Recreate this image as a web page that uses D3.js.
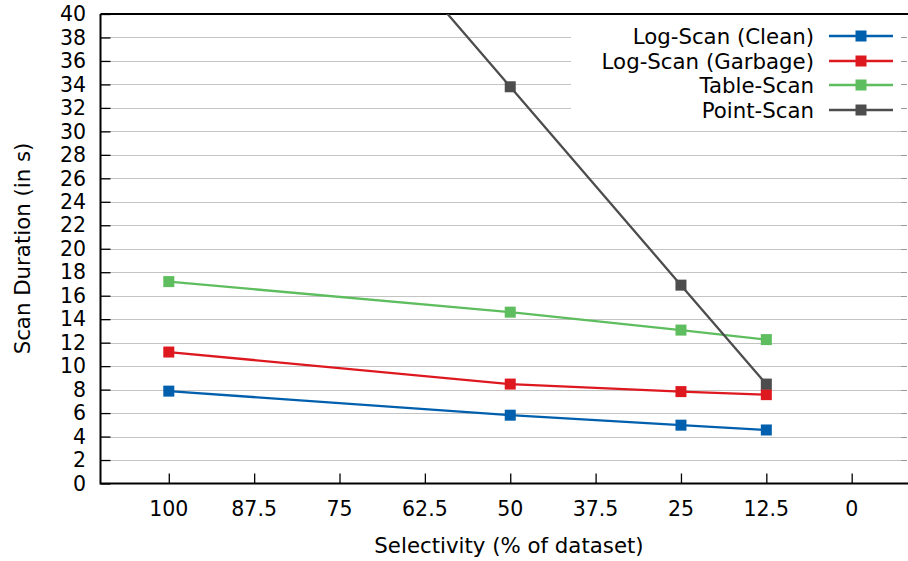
<!DOCTYPE html>
<html>
<head>
<meta charset="utf-8">
<script src="https://cdn.jsdelivr.net/npm/d3@7"></script>
<style>
  body { margin: 0; background: #fff; }
  svg { display: block; font-family: "DejaVu Sans", sans-serif; }
</style>
</head>
<body>
<div id="chart"></div>
<script>
const width = 908;
const height = 561;

// selectivity in % of dataset
const selectivity = [100, 50, 25, 12.5];
const xTicks = [100, 87.5, 75, 62.5, 50, 37.5, 25, 12.5, 0];
const yTicks = d3.range(0, 41, 2);

const logScanClean = [7.87, 5.82, 4.97, 4.56];
const logScanGarbage = [11.2, 8.47, 7.83, 7.57];
const tableScan = [17.2, 14.6, 13.07, 12.26];
const pointScan = [67.6, 33.8, 16.9, 8.47];

const seriesNames = ["Log-Scan (Clean)", "Log-Scan (Garbage)", "Table-Scan", "Point-Scan"];
const seriesColors = ["#0060ad", "#dd181f", "#5ebd5e", "#4d4d4d"];
const seriesValues = [logScanClean, logScanGarbage, tableScan, pointScan];

const plotLeft = 100.5, plotRight = 907, plotTop = 14, plotBottom = 483.5;
const tickFont = "20.5px";
const labelFont = "21.3px";

const svg = d3.select("#chart").append("svg")
  .attr("width", width)
  .attr("height", height);

const x = d3.scaleLinear().domain([110, -8.1]).range([plotLeft, plotRight]);
const y = d3.scaleLinear().domain([0, 40]).range([plotBottom, plotTop]);

svg.append("defs").append("clipPath")
  .attr("id", "plotClip")
  .append("rect")
  .attr("x", plotLeft).attr("y", plotTop)
  .attr("width", plotRight - plotLeft).attr("height", plotBottom - plotTop);

// grid
svg.append("g")
  .selectAll("line")
  .data(yTicks.filter(d => d > 0 && d < 40))
  .enter()
  .append("line")
  .attr("x1", plotLeft).attr("x2", plotRight)
  .attr("y1", d => Math.round(y(d)) + 0.5)
  .attr("y2", d => Math.round(y(d)) + 0.5)
  .attr("stroke", "#c4c4c4")
  .attr("stroke-width", 1);

// y axis (ticks pointing inward)
const yAxis = svg.append("g")
  .attr("transform", `translate(${plotLeft},0)`)
  .call(d3.axisRight(y).tickValues(yTicks).tickSize(10).tickFormat(""));
yAxis.select(".domain").remove();
yAxis.selectAll("line").attr("stroke", "#000").attr("stroke-width", 1.3);

svg.append("g")
  .selectAll("text")
  .data(yTicks)
  .enter()
  .append("text")
  .attr("x", 86)
  .attr("y", d => y(d))
  .attr("dy", "0.35em")
  .attr("text-anchor", "end")
  .style("font-size", tickFont)
  .text(d => d);

// x axis (ticks pointing inward)
const xAxis = svg.append("g")
  .attr("transform", `translate(0,${plotBottom})`)
  .call(d3.axisTop(x).tickValues(xTicks).tickSize(10).tickFormat(""));
xAxis.select(".domain").remove();
xAxis.selectAll("line").attr("stroke", "#000").attr("stroke-width", 1.3);

svg.append("g")
  .selectAll("text")
  .data(xTicks)
  .enter()
  .append("text")
  .attr("x", d => x(d))
  .attr("y", 516)
  .attr("text-anchor", "middle")
  .style("font-size", tickFont)
  .text(d => d);

// frame
svg.append("path")
  .attr("d", `M${plotLeft},${plotTop}H${plotRight + 2}M${plotLeft},${plotTop}V${plotBottom}H${plotRight + 2}`)
  .attr("fill", "none")
  .attr("stroke", "#000")
  .attr("stroke-width", 2);

// axis labels
svg.append("text")
  .attr("transform", `translate(30,${(144 + 353) / 2}) rotate(-90)`)
  .attr("text-anchor", "middle")
  .style("font-size", labelFont)
  .text("Scan Duration (in s)");

svg.append("text")
  .attr("x", 509)
  .attr("y", 553)
  .attr("text-anchor", "middle")
  .style("font-size", labelFont)
  .text("Selectivity (% of dataset)");

// legend box (covers grid)
svg.append("rect")
  .attr("x", 571).attr("y", plotTop + 1)
  .attr("width", plotRight - 571 - 4).attr("height", 108)
  .attr("fill", "#fff");

const legendRows = [36, 61, 85, 110];
const legend = svg.append("g")
  .selectAll("g")
  .data(seriesNames)
  .enter()
  .append("g")
  .attr("transform", (d, i) => `translate(0,${legendRows[i]})`);

legend.append("text")
  .attr("x", 814)
  .attr("dy", "0.36em")
  .attr("text-anchor", "end")
  .style("font-size", labelFont)
  .text(d => d);

legend.append("line")
  .attr("x1", 829).attr("x2", 893)
  .attr("stroke", (d, i) => seriesColors[i])
  .attr("stroke-width", 2.3);

legend.append("rect")
  .attr("x", 861 - 5.5).attr("y", -5.5)
  .attr("width", 11).attr("height", 11)
  .attr("fill", (d, i) => seriesColors[i]);

// right-side mirror ticks
svg.append("g")
  .selectAll("line")
  .data(yTicks.filter(d => d > 0 && d < 40))
  .enter()
  .append("line")
  .attr("x1", plotRight - 6).attr("x2", plotRight)
  .attr("y1", d => Math.round(y(d)) + 0.5)
  .attr("y2", d => Math.round(y(d)) + 0.5)
  .attr("stroke", "#999")
  .attr("stroke-width", 1);

// series
const plot = svg.append("g").attr("clip-path", "url(#plotClip)");
const line = d3.line()
  .x(d => x(d[0]))
  .y(d => y(d[1]));

seriesValues.forEach((vals, i) => {
  const pts = selectivity.map((s, j) => [s, vals[j]]);
  plot.append("path")
    .datum(pts)
    .attr("d", line)
    .attr("fill", "none")
    .attr("stroke", seriesColors[i])
    .attr("stroke-width", 2.3);
  plot.selectAll(null)
    .data(pts)
    .enter()
    .append("rect")
    .attr("x", d => x(d[0]) - 5.5)
    .attr("y", d => y(d[1]) - 5.5)
    .attr("width", 11)
    .attr("height", 11)
    .attr("fill", seriesColors[i]);
});
</script>
</body>
</html>
